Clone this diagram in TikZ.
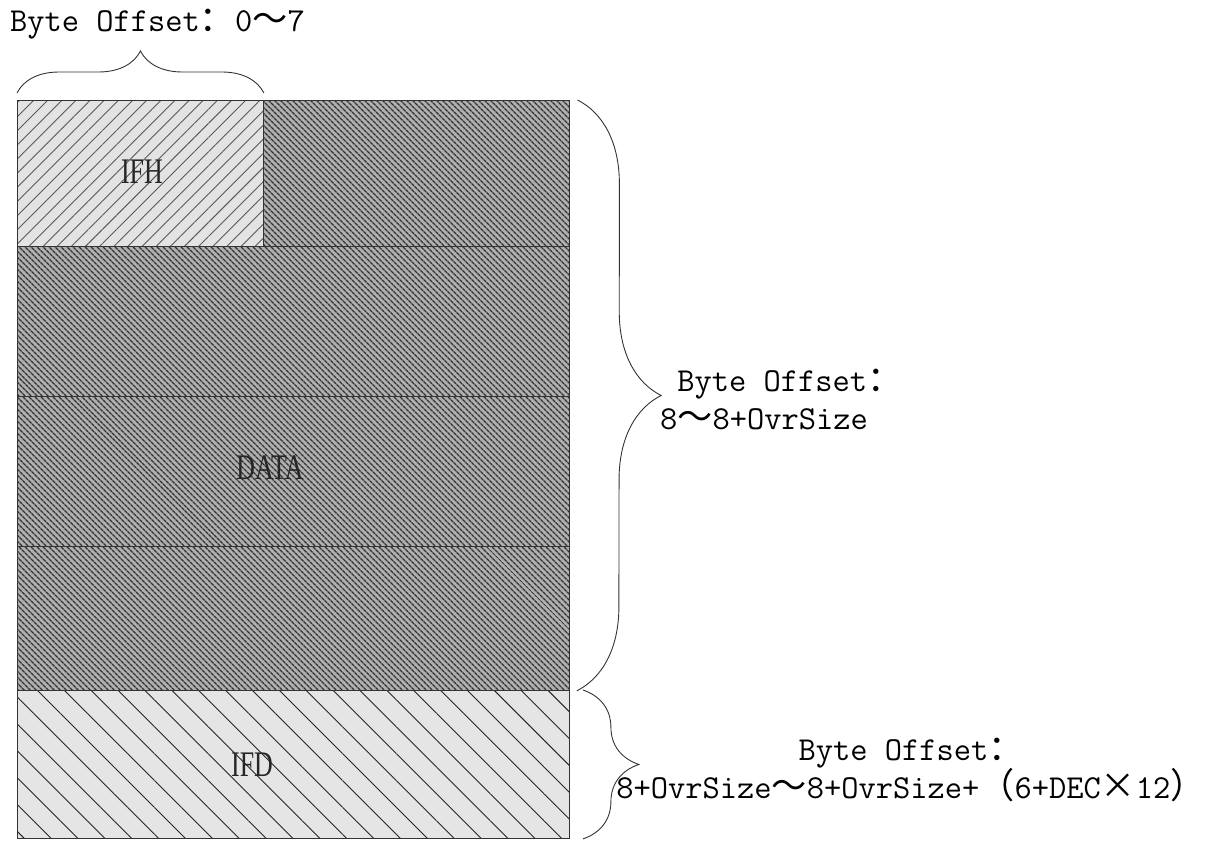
\documentclass[tikz,border=0pt]{standalone}
\usepackage{fontspec}
\setmainfont{Liberation Serif}
\newfontfamily\narrowf[FakeStretch=0.72]{Liberation Serif}
\newfontfamily\cjk[Scale=1.05]{Noto Sans CJK SC}
\usetikzlibrary{patterns.meta,decorations.pathreplacing,positioning}

\newcommand{\fw}[1]{{\cjk #1}}

\begin{document}
\begin{tikzpicture}[x=1pt, y=-1pt]
    \tikzstyle{block} = [rectangle, draw=black!80, line width=0.8pt, anchor=north west, inner sep=0pt]
    \tikzstyle{blocktext} = [font=\narrowf\fontsize{36}{40}\selectfont, text=black!85, inner sep=0pt]
    \tikzstyle{ifhfill} = [preaction={fill=gray!22}, pattern={Lines[angle=45, distance=10pt, line width=0.9pt]}, pattern color=black!65]
    \tikzstyle{datafill} = [preaction={fill=gray!62}, pattern={Lines[angle=-45, distance=4pt, line width=1.5pt]}, pattern color=black!80]
    \tikzstyle{ifdfill} = [preaction={fill=gray!20}, pattern={Lines[angle=-45, distance=19pt, line width=0.9pt]}, pattern color=black!85]
    \tikzstyle{bracedraw} = [decorate, line width=0.9pt, draw=black!80]
    \tikzstyle{offset} = [font=\ttfamily\fontsize{33.5}{38}\selectfont, inner sep=0pt]

    \useasboundingbox (0,0) rectangle (1218,841);

    % data rows
    \node [block, datafill, minimum width=306pt, minimum height=146pt] (row1) at (263,100) {};
    \node [block, datafill, minimum width=552pt, minimum height=150pt] (row2) at (17,246) {};
    \node [block, datafill, minimum width=552pt, minimum height=150pt] (row3) at (17,396) {};
    \node [block, datafill, minimum width=552pt, minimum height=144pt] (row4) at (17,546) {};
    \node [blocktext] (data) at (270,468) {DATA};

    % header and directory
    \node [block, ifhfill, minimum width=246pt, minimum height=146pt] (ifh) at (17,100) {};
    \node [blocktext] (ifhtext) at (142,172) {IFH};
    \node [block, ifdfill, minimum width=552pt, minimum height=148pt] (ifd) at (17,690) {};
    \node [blocktext] (ifdtext) at (252,765) {IFD};

    % braces
    \draw [bracedraw, decoration={brace, amplitude=42pt}] ([yshift=7pt]ifh.north west) -- ([yshift=7pt]ifh.north east);
    \draw [bracedraw, decoration={brace, amplitude=84pt}] ([xshift=7pt]row1.north east) -- ([xshift=7pt]row4.south east);
    \draw [bracedraw, decoration={brace, amplitude=56pt}] ([xshift=13pt]ifd.north east) -- ([xshift=13pt]ifd.south east);

    \node [offset, anchor=west] (top) at (10,24) {Byte Offset\fw{：}0\fw{～}7};
    \node [offset, align=left, anchor=west] (mid) at (660,400) {\ Byte Offset\fw{：}\\8\fw{～}8+OvrSize};
    \node [offset, align=center] (bot) at (911,770) {Byte Offset\fw{：}\\8+OvrSize\fw{～}8+OvrSize+\fw{（}6+DEC\fw{×}12\fw{）}};
\end{tikzpicture}
\end{document}
